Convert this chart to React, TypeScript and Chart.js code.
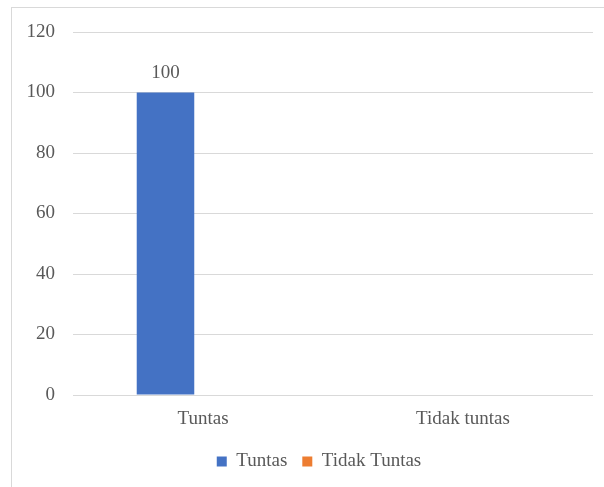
import React, { useEffect, useRef } from "react";
import { Chart, registerables } from "chart.js";

Chart.register(...registerables);

const categories = ["Tuntas", "Tidak tuntas"];
const seriesNames = ["Tuntas", "Tidak Tuntas"];
const tuntasValues: (number | null)[] = [100, null];
const tidakTuntasValues: (number | null)[] = [null, 0];
const yMin = 0;
const yMax = 120;
const yStep = 20;

const FONT = "'Liberation Serif', 'Times New Roman', serif";
const TEXT = "#595959";
const GRID = "#d9d9d9";

const valueLabels = {
  id: "valueLabels",
  afterDatasetsDraw(chart: any) {
    const ctx = chart.ctx;
    ctx.save();
    ctx.font = `19px ${FONT}`;
    ctx.fillStyle = TEXT;
    ctx.textAlign = "center";
    ctx.textBaseline = "alphabetic";
    chart.data.datasets.forEach((ds: any, di: number) => {
      const meta = chart.getDatasetMeta(di);
      meta.data.forEach((bar: any, i: number) => {
        const v = ds.data[i];
        if (v === null || v === undefined || v === 0) return;
        ctx.fillText(String(v), bar.x, bar.y - 14.5);
      });
    });
    ctx.restore();
  },
};

const legendShift = {
  id: "legendShift",
  afterLayout(chart: any) {
    if (chart.legend) {
      chart.legend.left = 45;
    }
  },
};

export default function App() {
  const ref = useRef<HTMLCanvasElement | null>(null);
  useEffect(() => {
    if (!ref.current) return;
    const chart = new Chart(ref.current, {
      type: "bar",
      data: {
        labels: categories,
        datasets: [
          {
            label: seriesNames[0],
            data: tuntasValues,
            backgroundColor: "#4472C4",
            categoryPercentage: 0.577,
            barPercentage: 0.767,
          },
          {
            label: seriesNames[1],
            data: tidakTuntasValues,
            backgroundColor: "#ED7D31",
            categoryPercentage: 0.577,
            barPercentage: 0.767,
          },
        ],
      },
      options: {
        animation: false,
        responsive: false,
        layout: { padding: { left: 0, right: 11, top: 32, bottom: 6 } },
        plugins: {
          legend: {
            position: "bottom",
            labels: {
              boxWidth: 10,
              boxHeight: 10,
              padding: 15,
              color: TEXT,
              font: { family: FONT, size: 19 },
            },
          },
          tooltip: { enabled: false },
        },
        scales: {
          x: {
            grid: { display: false, drawTicks: false },
            border: { display: false },
            ticks: { color: TEXT, font: { family: FONT, size: 19 }, padding: 13 },
            afterFit: (s: any) => {
              s.height = 42;
            },
          },
          y: {
            min: yMin,
            max: yMax,
            ticks: {
              stepSize: yStep,
              color: TEXT,
              font: { family: FONT, size: 19 },
              padding: 18,
            },
            grid: { color: GRID, lineWidth: 1, drawTicks: false },
            border: { display: false },
            afterFit: (s: any) => {
              s.width = 73;
            },
          },
        },
      },
      plugins: [valueLabels, legendShift],
    });
    return () => chart.destroy();
  }, []);

  return (
    <div
      style={{
        position: "fixed",
        left: 0,
        top: 0,
        width: 604,
        height: 487,
        overflow: "hidden",
        background: "#fff",
      }}
    >
      <div
        style={{
          position: "absolute",
          left: 11,
          top: 7,
          width: 700,
          height: 600,
          border: "1.5px solid #d9d9d9",
        }}
      />
      <canvas
        ref={ref}
        width={604}
        height={487}
        style={{ position: "absolute", left: 0, top: 0, width: 604, height: 487 }}
      />
    </div>
  );
}
